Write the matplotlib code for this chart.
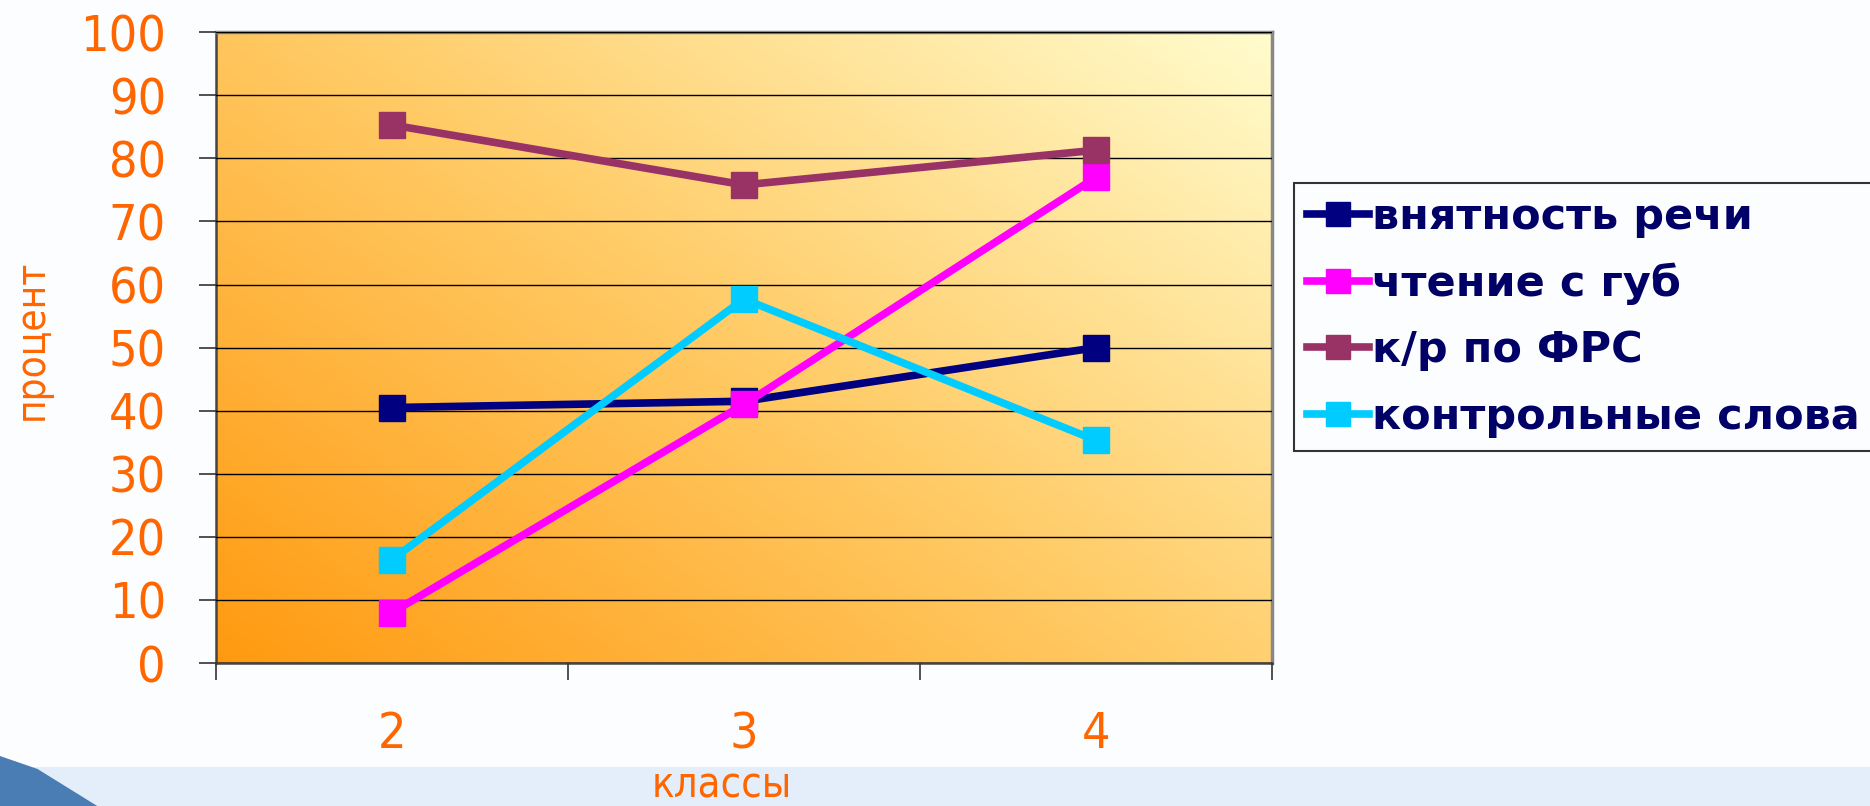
import numpy as np
import matplotlib.pyplot as plt
from matplotlib.colors import LinearSegmentedColormap
from matplotlib.patches import Polygon

# Data
classes = ['2', '3', '4']
speech = [40.5, 41.5, 50.0]          # внятность речи
lipreading = [8.0, 41.0, 77.0]       # чтение с губ
frs = [85.3, 75.8, 81.3]             # к/р по ФРС
control_words = [16.4, 57.7, 35.3]   # контрольные слова

series = [
    ('внятность речи', speech, '#000080'),
    ('чтение с губ', lipreading, '#FF00FF'),
    ('к/р по ФРС', frs, '#993366'),
    ('контрольные слова', control_words, '#00CCFF'),
]

orange = '#FF6600'

fig = plt.figure(figsize=(18.7, 8.06), dpi=100)
fig.patch.set_facecolor('#FCFDFF')

# slide background: light blue band at the bottom and a blue swoosh
bg = fig.add_axes([0, 0, 1, 1], zorder=-10)
bg.set_xlim(0, 1)
bg.set_ylim(0, 1)
bg.axis('off')
bg.add_patch(plt.Rectangle((0, 0), 1, 0.048, color='#E4EDFA', lw=0))
bg.add_patch(Polygon([(0, 0), (0, 0.062), (0.02, 0.046), (0.052, 0.0)],
                     closed=True, color='#4A7DB3', lw=0))

ax = fig.add_axes([0.1155, 0.1774, 0.5647, 0.7826])

# gradient fill of the plot area
cmap = LinearSegmentedColormap.from_list('bg', ['#FF9A10', '#FFCB66', '#FFFCCD'])
gx, gy = np.meshgrid(np.linspace(0, 1, 200), np.linspace(0, 1, 200))
grad = gx * 0.55 + gy * 0.45
ax.imshow(grad, cmap=cmap, extent=[0, 1, 0, 1], transform=ax.transAxes,
          origin='lower', aspect='auto', zorder=0, interpolation='bilinear')

x = np.arange(len(classes)) + 0.5
for name, vals, col in series:
    ax.plot(x, vals, color=col, lw=5.5, marker='s', markersize=18.5,
            markeredgecolor=col, label=name, zorder=3)

ax.set_xlim(0, 3)
ax.set_ylim(0, 100)
ax.set_yticks(range(0, 101, 10))
ax.yaxis.grid(True, color='black', lw=1.0, zorder=1)
ax.set_axisbelow(False)

ax.set_xticks([0, 1, 2, 3])
ax.set_xticklabels([])
ax.set_xticks(x, minor=True)
ax.set_xticklabels(classes, minor=True, fontsize=36, color=orange,
                   fontstretch='condensed')
ax.tick_params(axis='x', which='minor', length=0, pad=34)
ax.tick_params(axis='x', which='major', length=12, width=1.2, color='#333333')
ax.tick_params(axis='y', length=12, width=1.2, color='#333333', pad=24)
for t in ax.get_yticklabels():
    t.set_fontsize(36)
    t.set_color(orange)
    t.set_fontstretch('condensed')

for side in ['top', 'right']:
    ax.spines[side].set_color('#888888')
    ax.spines[side].set_linewidth(2.5)
for side in ['left', 'bottom']:
    ax.spines[side].set_color('#444444')
    ax.spines[side].set_linewidth(1.8)

fig.text(0.386, 0.001, 'классы', fontsize=30, color=orange, ha='center',
         va='bottom', fontstretch='condensed')
fig.text(0.017, 0.578, 'процент', fontsize=29, color=orange, rotation=90,
         ha='center', va='center', fontstretch='condensed')

leg = fig.legend(loc='upper left', bbox_to_anchor=(0.692, 0.773), frameon=True,
                 fancybox=False, edgecolor='#333333', framealpha=1,
                 facecolor='#FCFDFF', handlelength=1.45, handletextpad=0.05,
                 borderpad=0.3, labelspacing=0.57, borderaxespad=0,
                 prop={'size': 31, 'weight': 'bold'}, markerscale=0.95)
for t in leg.get_texts():
    t.set_color('#000066')
leg.get_frame().set_linewidth(1.5)

fig.savefig('out.png', dpi=100)
